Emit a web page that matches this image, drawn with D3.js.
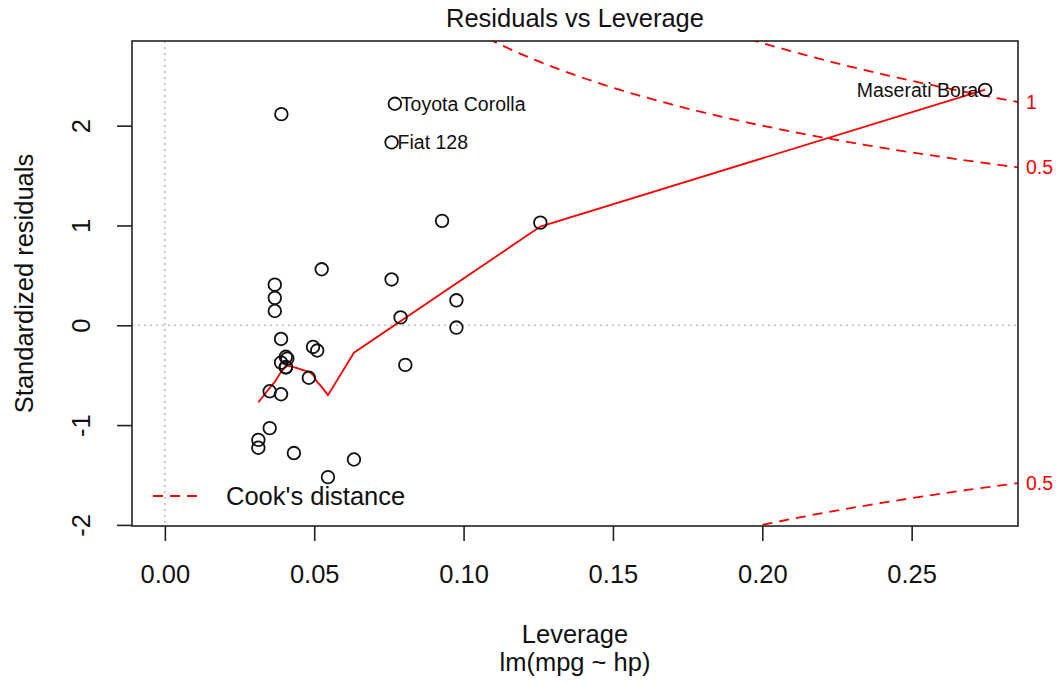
<!DOCTYPE html>
<html>
<head>
<meta charset="utf-8">
<script src="https://cdn.jsdelivr.net/npm/d3@7"></script>
<style>
body { margin: 0; background: #fff; }
text { font-family: "Liberation Sans", Arial, sans-serif; }
</style>
</head>
<body>
<script>
// lm(mpg ~ hp) on mtcars : leverage and standardized residuals per car
const carNames = ["Mazda RX4","Mazda RX4 Wag","Datsun 710","Hornet 4 Drive","Hornet Sportabout",
  "Valiant","Duster 360","Merc 240D","Merc 230","Merc 280","Merc 280C","Merc 450SE","Merc 450SL",
  "Merc 450SLC","Cadillac Fleetwood","Lincoln Continental","Chrysler Imperial","Fiat 128",
  "Honda Civic","Toyota Corolla","Toyota Corona","Dodge Challenger","AMC Javelin","Camaro Z28",
  "Pontiac Firebird","Fiat X1-9","Porsche 914-2","Lotus Europa","Ford Pantera L","Ferrari Dino",
  "Maserati Bora","Volvo 142E"];
const leverage = [0.0405,0.0405,0.0510,0.0405,0.0368,0.0432,0.0976,0.0805,0.0496,0.0351,0.0351,
  0.0389,0.0389,0.0389,0.0546,0.0633,0.0789,0.0759,0.0928,0.0770,0.0482,0.0313,0.0313,0.0976,
  0.0368,0.0759,0.0525,0.0390,0.1257,0.0368,0.2746,0.0410];
const stdResid = [-0.421,-0.421,-0.253,-0.316,0.143,-1.280,0.250,-0.397,-0.217,-0.661,-1.030,
  -0.374,-0.137,-0.691,-1.521,-1.345,0.079,1.832,1.046,2.219,-0.526,-1.148,-1.227,-0.023,
  0.275,0.459,0.561,2.115,1.028,0.407,2.358,-0.334];
const labelled = ["Toyota Corolla", "Fiat 128", "Maserati Bora"];

// red smoother
const smoothLev = [0.0313,0.0351,0.0368,0.0389,0.0405,0.0410,0.0432,0.0482,0.0496,0.0510,0.0525,0.0546,0.0633,0.1257,0.2746];
const smoothRes = [-0.771,-0.627,-0.567,-0.467,-0.412,-0.407,-0.420,-0.467,-0.497,-0.567,-0.617,-0.700,-0.275,0.989,2.360];

const cookLevels = [0.5, 1];
const nCoef = 2;
const xTicks = [0, 0.05, 0.10, 0.15, 0.20, 0.25];
const yTicks = [-2, -1, 0, 1, 2];

const W = 1056, H = 684;
const m = {top: 41, right: 38, bottom: 158, left: 132};
const red = "#ff0000";

const svg = d3.select("body").append("svg").attr("width", W).attr("height", H);

const x = d3.scaleLinear().domain([-0.011, 0.2856]).range([m.left, W - m.right]);
const y = d3.scaleLinear().domain([-2.011, 2.848]).range([H - m.bottom, m.top]);

svg.append("clipPath").attr("id", "plotclip")
  .append("rect")
  .attr("x", m.left).attr("y", m.top)
  .attr("width", W - m.left - m.right).attr("height", H - m.top - m.bottom);

// grey dotted reference lines
svg.append("line")
  .attr("x1", x(0)).attr("x2", x(0)).attr("y1", m.top).attr("y2", H - m.bottom)
  .attr("stroke", "#bebebe").attr("stroke-width", 1.6).attr("stroke-dasharray", "2,4");
svg.append("line")
  .attr("x1", m.left).attr("x2", W - m.right).attr("y1", y(0)).attr("y2", y(0))
  .attr("stroke", "#bebebe").attr("stroke-width", 1.6).attr("stroke-dasharray", "2,4");

// axes
const xAxis = svg.append("g")
  .attr("transform", `translate(0,${H - m.bottom})`)
  .call(d3.axisBottom(x).tickValues(xTicks).tickFormat(d3.format(".2f")).tickSize(15).tickPadding(24));
const yAxis = svg.append("g")
  .attr("transform", `translate(${m.left},0)`)
  .call(d3.axisLeft(y).tickValues(yTicks).tickFormat(d => String(d)).tickSize(15));
[xAxis, yAxis].forEach(g => {
  g.select(".domain").remove();
  g.selectAll("line").attr("stroke", "#222").attr("stroke-width", 1.6);
  g.selectAll("text").attr("fill", "#111").style("font-size", "25.5px")
    .style("font-family", '"Liberation Sans", Arial, sans-serif');
});
yAxis.selectAll("text")
  .attr("transform", "rotate(-90)")
  .attr("x", 0).attr("y", -42).attr("dy", 0)
  .attr("text-anchor", "middle");

// Cook's distance contours
const h0 = Math.min(d3.min(leverage), d3.max(leverage) / 100);
const hh = d3.range(101).map(i => h0 + i * (x.domain()[1] - h0) / 100);
const clipped = svg.append("g").attr("clip-path", "url(#plotclip)");
cookLevels.forEach(lv => {
  [1, -1].forEach(sgn => {
    const pts = hh.map(h => [h, sgn * Math.sqrt(lv * nCoef * (1 - h) / h)]);
    clipped.append("path")
      .datum(pts)
      .attr("fill", "none").attr("stroke", red).attr("stroke-width", 1.8)
      .attr("stroke-dasharray", "10,7")
      .attr("d", d3.line().x(d => x(d[0])).y(d => y(d[1])));
  });
});

// smoother
clipped.append("path")
  .datum(d3.zip(smoothLev, smoothRes))
  .attr("fill", "none").attr("stroke", red).attr("stroke-width", 1.8)
  .attr("d", d3.line().x(d => x(d[0])).y(d => y(d[1])));

// points
const pts = carNames.map((n, i) => ({name: n, h: leverage[i], r: stdResid[i]}));
svg.append("g").selectAll("circle")
  .data(pts).enter().append("circle")
  .attr("cx", d => x(d.h)).attr("cy", d => y(d.r)).attr("r", 6.3)
  .attr("fill", "none").attr("stroke", "#111").attr("stroke-width", 1.8);

// point labels
const xMid = (x.domain()[0] + x.domain()[1]) / 2;
svg.append("g").selectAll("text")
  .data(pts.filter(d => labelled.includes(d.name))).enter().append("text")
  .attr("x", d => d.h > xMid ? x(d.h) - 7 : x(d.h) + 6)
  .attr("y", d => y(d.r)).attr("dy", "0.36em")
  .attr("text-anchor", d => d.h > xMid ? "end" : "start")
  .style("font-size", "19.5px").attr("fill", "#111")
  .text(d => d.name);

// right-hand Cook's level labels
const xmax = Math.min(0.99, x.domain()[1]);
const ymult = Math.sqrt(nCoef * (1 - xmax) / xmax);
const cookTicks = [];
cookLevels.slice().reverse().forEach(lv => cookTicks.push({v: -Math.sqrt(lv) * ymult, lab: String(lv)}));
cookLevels.forEach(lv => cookTicks.push({v: Math.sqrt(lv) * ymult, lab: String(lv)}));
svg.append("g").selectAll("text")
  .data(cookTicks.filter(d => d.v >= y.domain()[0] && d.v <= y.domain()[1])).enter().append("text")
  .attr("x", W - m.right + 8).attr("y", d => y(d.v)).attr("dy", "0.36em")
  .style("font-size", "19.5px").attr("fill", red)
  .text(d => d.lab);

// box
svg.append("rect")
  .attr("x", m.left).attr("y", m.top)
  .attr("width", W - m.left - m.right).attr("height", H - m.top - m.bottom)
  .attr("fill", "none").attr("stroke", "#222").attr("stroke-width", 1.6);

// legend
svg.append("line")
  .attr("x1", 153).attr("x2", 201).attr("y1", 496).attr("y2", 496)
  .attr("stroke", red).attr("stroke-width", 1.8).attr("stroke-dasharray", "10,7");
svg.append("text").attr("x", 226).attr("y", 496).attr("dy", "0.36em")
  .style("font-size", "25.5px").attr("fill", "#111").text("Cook's distance");

// titles
const cx = (m.left + W - m.right) / 2;
svg.append("text").attr("x", cx).attr("y", 27).attr("text-anchor", "middle")
  .style("font-size", "25.5px").attr("fill", "#111").text("Residuals vs Leverage");
svg.append("text").attr("x", cx).attr("y", 643).attr("text-anchor", "middle")
  .style("font-size", "25.5px").attr("fill", "#111").text("Leverage");
svg.append("text").attr("x", cx).attr("y", 671).attr("text-anchor", "middle")
  .style("font-size", "25.5px").attr("fill", "#111").text("lm(mpg ~ hp)");
svg.append("text")
  .attr("transform", `translate(33,${(m.top + H - m.bottom) / 2}) rotate(-90)`)
  .attr("text-anchor", "middle")
  .style("font-size", "25.5px").attr("fill", "#111").text("Standardized residuals");
</script>
</body>
</html>
